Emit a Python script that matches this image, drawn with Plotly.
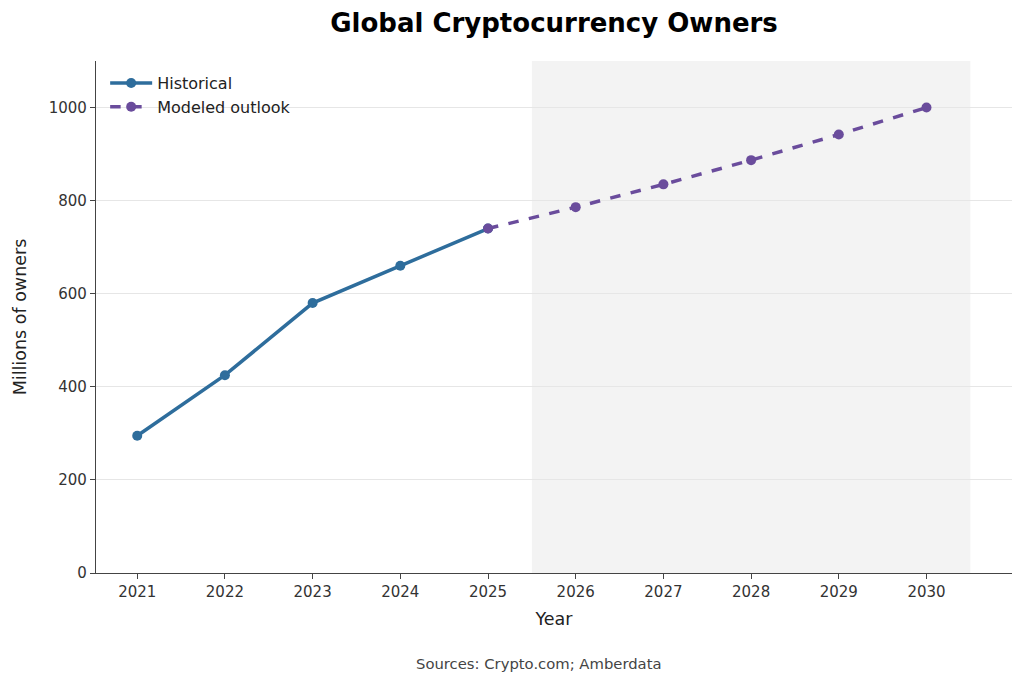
import plotly.graph_objects as go

hist_years = [2021, 2022, 2023, 2024, 2025]
hist_values = [295, 425, 580, 660, 740]
model_years = [2025, 2026, 2027, 2028, 2029, 2030]
model_values = [740, 786, 835, 887, 942, 1000]
x_ticks = [2021, 2022, 2023, 2024, 2025, 2026, 2027, 2028, 2029, 2030]
y_ticks = [0, 200, 400, 600, 800, 1000]

BLUE = "#2e6d9c"
PURPLE = "#6a4c9c"
FONT = "DejaVu Sans"

fig = go.Figure()
fig.add_vrect(x0=2025.5, x1=2030.5, fillcolor="#f3f3f3", line_width=0, layer="below")
fig.add_trace(go.Scatter(x=hist_years, y=hist_values, mode="lines+markers", name="Historical",
                         legendgroup="h",
                         line=dict(color=BLUE, width=3.5), marker=dict(size=10, color=BLUE)))
fig.add_trace(go.Scatter(x=model_years, y=model_values, mode="lines+markers", name="Modeled outlook",
                         legendgroup="m",
                         line=dict(color=PURPLE, width=3.5, dash="dash"), marker=dict(size=10, color=PURPLE)))

fig.update_layout(
    width=1024, height=684,
    margin=dict(l=96, r=12, t=61, b=111),
    paper_bgcolor="white", plot_bgcolor="white",
    font=dict(family=FONT, size=15, color="#333"),
    title=dict(text="<b>Global Cryptocurrency Owners</b>", x=0.5, xref="paper", xanchor="center",
               y=0.966, yanchor="middle",
               font=dict(family=FONT, size=26, color="black")),
    showlegend=True,
    legend=dict(x=0.01, y=0.99, xanchor="left", yanchor="top", bgcolor="rgba(255,255,255,0)",
                font=dict(family=FONT, size=16, color="#222"), tracegroupgap=0, itemwidth=42),
    xaxis=dict(range=[2020.53, 2030.975], tickvals=x_ticks, ticktext=[str(v) for v in x_ticks],
               showgrid=False, zeroline=False, showline=True, linecolor="#444", linewidth=1.2,
               ticks="outside", ticklen=5, tickcolor="#444",
               tickfont=dict(size=15, color="#333"),
               title=dict(text="Year", font=dict(size=17.5, color="#222"), standoff=12)),
    yaxis=dict(range=[0, 1100], tickvals=y_ticks, showgrid=True, gridcolor="#e6e6e6", gridwidth=1,
               zeroline=False, showline=True, linecolor="#444", linewidth=1.2,
               ticks="outside", ticklen=5, tickcolor="#444",
               tickfont=dict(size=15, color="#333"),
               title=dict(text="Millions of owners", font=dict(size=17.5, color="#222"), standoff=17)),
    annotations=[dict(text="Sources: Crypto.com; Amberdata", xref="paper", yref="paper",
                      x=0.484, y=-0.176, xanchor="center", yanchor="middle", showarrow=False,
                      font=dict(family=FONT, size=14.8, color="#444"))],
)

fig.write_html("out.html")
